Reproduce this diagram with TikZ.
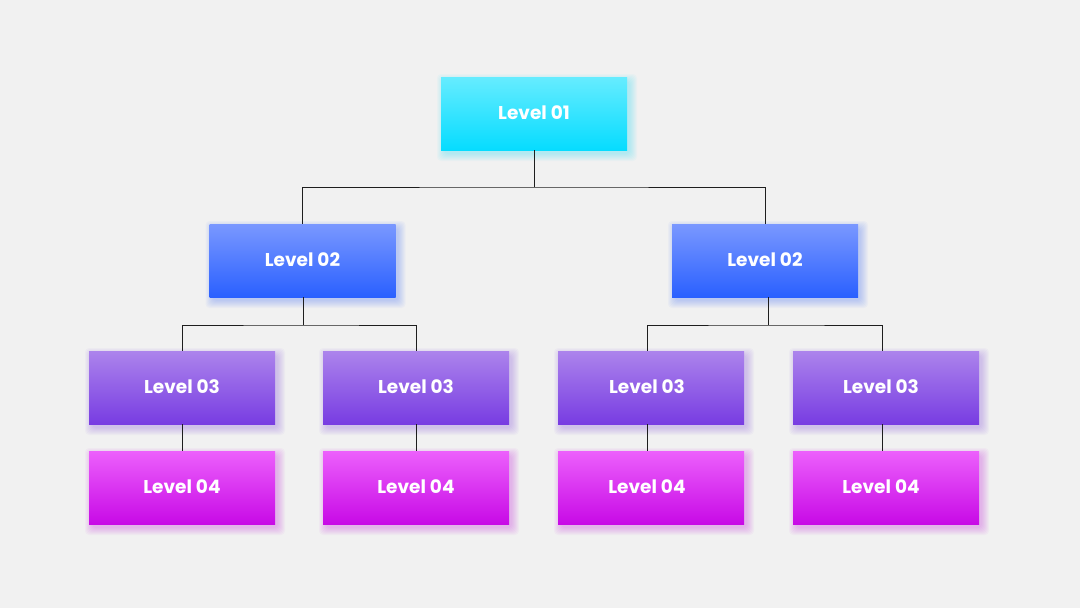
\documentclass[tikz,border=0pt]{standalone}
\usepackage{fontspec}
\setmainfont{Poppins}
\usetikzlibrary{calc}
\definecolor{bg}{RGB}{241,241,241}
\definecolor{lAt}{RGB}{102,236,255}
\definecolor{lAb}{RGB}{6,220,255}
\definecolor{lBt}{RGB}{122,152,255}
\definecolor{lBb}{RGB}{42,96,255}
\definecolor{lCt}{RGB}{172,132,236}
\definecolor{lCb}{RGB}{120,60,226}
\definecolor{lDt}{RGB}{236,96,252}
\definecolor{lDb}{RGB}{200,10,230}
\definecolor{linec}{RGB}{30,30,30}
\tikzset{
  lvl/.style={minimum width=186pt, minimum height=73pt, inner sep=0pt,
    font=\fontsize{18.5}{22}\selectfont\bfseries, text=white},
  conn/.style={draw=linec, line width=1pt}
}
\newcommand\lbox[7]{%
  \foreach \k in {0,...,7}{%
    \fill[#6, opacity=0.035, rounded corners=4pt]
      (#2-93+3-\k, #3-36.5+4-\k) rectangle (#2+93+3+\k, #3+36.5+4+\k);}
  \node[lvl, top color=#4, bottom color=#5] (#1) at (#2,#3) {\raisebox{1.5pt}{#7}};
}
\begin{document}
\begin{tikzpicture}[x=1pt,y=-1pt]
\fill[bg] (0,0) rectangle (1080,608);
\useasboundingbox (0,0) rectangle (1080,608);
\coordinate (j1) at (534,187);
\coordinate (j2) at (303,325);
\coordinate (j3) at (768,325);
\lbox{l1}{534}{113.5}{lAt}{lAb}{lAb}{Level 01}
\lbox{l2a}{302.5}{260.5}{lBt}{lBb}{lBb}{Level 02}
\lbox{l2b}{765}{260.5}{lBt}{lBb}{lBb}{Level 02}
\lbox{l3a}{182}{387.5}{lCt}{lCb}{lCb}{Level 03}
\lbox{l3b}{416}{387.5}{lCt}{lCb}{lCb}{Level 03}
\lbox{l3c}{651}{387.5}{lCt}{lCb}{lCb}{\hspace*{-8pt}Level 03}
\lbox{l3d}{886}{387.5}{lCt}{lCb}{lCb}{\hspace*{-10pt}Level 03}
\lbox{l4a}{182}{487.5}{lDt}{lDb}{lDb}{Level 04}
\lbox{l4b}{416}{487.5}{lDt}{lDb}{lDb}{Level 04}
\lbox{l4c}{651}{487.5}{lDt}{lDb}{lDb}{\hspace*{-8pt}Level 04}
\lbox{l4d}{886}{487.5}{lDt}{lDb}{lDb}{\hspace*{-10pt}Level 04}
% level 1 -> 2
\draw[conn] (l1.south) -- (j1);
\draw[conn] (l2a.north) |- (j1) -| (l2b.north);
% level 2 -> 3
\draw[conn] ($(l2a.south)+(0.5,0)$) -- (j2);
\draw[conn] (l3a.north) |- (j2) -| (l3b.north);
\draw[conn] ($(l2b.south)+(3,0)$) -- (j3);
\draw[conn] ($(l3c.north)+(-4,0)$) |- (j3) -| ($(l3d.north)+(-4,0)$);
% level 3 -> 4
\draw[conn] (l3a.south) -- (l4a.north);
\draw[conn] (l3b.south) -- (l4b.north);
\draw[conn] ($(l3c.south)+(-4,0)$) -- ($(l4c.north)+(-4,0)$);
\draw[conn] ($(l3d.south)+(-4,0)$) -- ($(l4d.north)+(-4,0)$);
\end{tikzpicture}
\end{document}
